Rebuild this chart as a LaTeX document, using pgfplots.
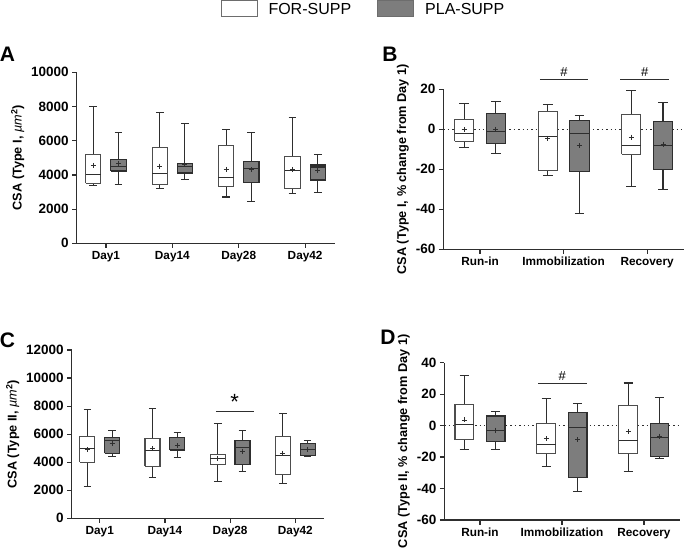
\documentclass[border=0pt]{standalone}
\usepackage{fontspec}
\setmainfont{Liberation Sans}
\usepackage{pgfplots}
\pgfplotsset{compat=1.18}
\definecolor{pla}{HTML}{7D7D7D}
\definecolor{ln}{HTML}{2E2E2E}

\pgfplotsset{
  panel/.style={
    scale only axis, axis lines*=left, enlargelimits=false, clip=false,
    tick align=outside, major tick length=4.5pt,
    scaled y ticks=false,
    axis line style={line width=1.2pt, ln},
    every tick/.style={line width=1.2pt, ln},
    tick label style={font=\bfseries\fontsize{13.5}{15}\selectfont},
    xticklabel style={font=\bfseries\fontsize{11.8}{13}\selectfont},
    label style={font=\bfseries\fontsize{12.7}{14}\selectfont},
    /pgf/number format/assume math mode=true,
    /pgf/number format/1000 sep={},
    xtick={0,1,2,3},
  },
  forb/.style={draw=ln!85, line width=1.1pt, fill=white},
  plab/.style={draw=ln, line width=1.1pt, fill=pla},
  wsk/.style={ln, line width=1.1pt, forget plot},
  means/.style={only marks, mark=+, mark size=2.5pt, ln, line width=0.9pt, forget plot},
  zero/.style={ln, line width=1.4pt, dash pattern=on 1.4pt off 3pt, forget plot},
  sig/.style={ln, line width=1pt, forget plot},
}

% box: style, position, lower whisker, q1, median, q3, upper whisker
\newcommand{\bx}[7]{%
  \pgfmathsetmacro\bxL{#2-0.115}\pgfmathsetmacro\bxR{#2+0.115}%
  \pgfmathsetmacro\bxA{#2-0.058}\pgfmathsetmacro\bxB{#2+0.058}%
  \edef\bxdo{%
    \noexpand\addplot[wsk] coordinates {(#2,#3) (#2,#4)};
    \noexpand\addplot[wsk] coordinates {(#2,#6) (#2,#7)};
    \noexpand\addplot[wsk] coordinates {(\bxA,#3) (\bxB,#3)};
    \noexpand\addplot[wsk] coordinates {(\bxA,#7) (\bxB,#7)};
    \noexpand\addplot[#1, forget plot] coordinates {(\bxL,#4) (\bxR,#4) (\bxR,#6) (\bxL,#6) (\bxL,#4)};
    \noexpand\addplot[wsk] coordinates {(\bxL,#5) (\bxR,#5)};
  }\bxdo}

\begin{document}
\begin{tikzpicture}
\useasboundingbox (0,0) rectangle (685pt,550pt);

% ---------- A ----------
\begin{axis}[panel, at={(76.7pt,306.7pt)}, width=258.3pt, height=171pt,
  xmin=-0.44, xmax=3.45, ymin=0, ymax=10000, ytick={0,2000,...,10000},
  xticklabels={Day1,Day14,Day28,Day42},
  ylabel={CSA (Type I, {\mdseries\itshape µm}\textsuperscript{2})}]
\bx{forb}{-0.19}{3390}{3510}{4020}{5190}{8000}
\bx{plab}{0.19}{3450}{4230}{4500}{4910}{6490}
\bx{forb}{0.81}{3220}{3450}{4090}{5610}{7660}
\bx{plab}{1.19}{3740}{4110}{4500}{4660}{7000}
\bx{forb}{1.81}{2710}{3330}{3840}{5710}{6630}
\bx{plab}{2.19}{2460}{3550}{4390}{4780}{6490}
\bx{forb}{2.81}{2890}{3180}{4250}{5070}{7350}
\bx{plab}{3.19}{2980}{3700}{4460}{4580}{5170}
\addplot[means] coordinates {(-0.19,4560) (0.19,4660) (0.81,4520) (1.19,4600)
  (1.81,4330) (2.19,4290) (2.81,4330) (3.19,4250)};
\end{axis}

% ---------- B ----------
\begin{axis}[panel, at={(443.3pt,300.7pt)}, width=241pt, height=160pt,
  xmin=-0.44, xmax=2.445, ymin=-60, ymax=20, ytick={-60,-40,...,20},
  xticklabels={Run-in,Immobilization,Recovery},
  ylabel={CSA (Type I, \% change from Day 1)}]
\addplot[zero] coordinates {(-0.44,0) (2.445,0)};
\bx{forb}{-0.19}{-9}{-6}{-2.3}{5}{13}
\bx{plab}{0.19}{-12}{-7.2}{-1}{7.8}{14}
\bx{forb}{0.81}{-22.9}{-20.7}{-3.4}{9.1}{12.2}
\bx{plab}{1.19}{-41.9}{-21.2}{-1.9}{4.5}{7}
\bx{forb}{1.81}{-28.7}{-12.4}{-7.9}{7.5}{19.2}
\bx{plab}{2.19}{-29.9}{-20}{-7.9}{4}{13.2}
\addplot[means] coordinates {(-0.19,-0.3) (0.19,0) (0.81,-4.5) (1.19,-8.2)
  (1.81,-3.9) (2.19,-7.4)};
\addplot[sig] coordinates {(0.715,25) (1.298,25)};
\addplot[sig] coordinates {(1.681,25) (2.263,25)};
\node[font=\fontsize{13}{13}\selectfont, anchor=base] at (axis cs:1.006,26.5) {\#};
\node[font=\fontsize{13}{13}\selectfont, anchor=base] at (axis cs:1.972,26.5) {\#};
\end{axis}

% ---------- C ----------
\begin{axis}[panel, at={(71.7pt,31.7pt)}, width=252.3pt, height=168.3pt,
  xmin=-0.43, xmax=3.44, ymin=0, ymax=12000, ytick={0,2000,...,12000},
  xticklabels={Day1,Day14,Day28,Day42},
  ylabel={CSA (Type II, {\mdseries\itshape µm}\textsuperscript{2})}]
\bx{forb}{-0.19}{2240}{4000}{4980}{5810}{7760}
\bx{plab}{0.19}{4430}{4640}{5570}{5760}{6240}
\bx{forb}{0.81}{2880}{3710}{4860}{5710}{7860}
\bx{plab}{1.19}{4310}{4860}{4930}{5760}{6140}
\bx{forb}{1.81}{2640}{3860}{4290}{4520}{6760}
\bx{plab}{2.19}{3310}{3810}{5050}{5570}{6290}
\bx{forb}{2.81}{2480}{3100}{4480}{5830}{7500}
\bx{plab}{3.19}{4430}{4500}{4930}{5360}{5520}
\addplot[means] coordinates {(-0.19,4880) (0.19,5360) (0.81,4950) (1.19,5190)
  (1.81,4290) (2.19,4790) (2.81,4640) (3.19,4930)};
\addplot[sig] coordinates {(1.78,7640) (2.36,7640)};
\node[font=\fontsize{22}{22}\selectfont, anchor=base] at (axis cs:2.07,7750) {*};
\end{axis}

% ---------- D ----------
\begin{axis}[panel, at={(444.3pt,30pt)}, width=235.7pt, height=157.3pt,
  xmin=-0.435, xmax=2.44, ymin=-60, ymax=40, ytick={-60,-40,...,40},
  xticklabels={Run-in,Immobilization,Recovery},
  ylabel={CSA (Type II, \% change from Day 1)}]
\addplot[zero] coordinates {(-0.435,0) (2.44,0)};
\bx{forb}{-0.19}{-15}{-8.9}{0.6}{13.3}{31.8}
\bx{plab}{0.19}{-15}{-10.2}{-3}{6.1}{9.1}
\bx{forb}{0.81}{-25.8}{-17.8}{-11.9}{1.3}{17.2}
\bx{plab}{1.19}{-41.9}{-32.8}{-1.1}{8.1}{14}
\bx{forb}{1.81}{-29.2}{-18}{-9.5}{12.7}{27.1}
\bx{plab}{2.19}{-20.8}{-19.5}{-7.8}{1.3}{18}
\addplot[means] coordinates {(-0.19,3.6) (0.19,-2.8) (0.81,-8.3) (1.19,-9.1)
  (1.81,-3.6) (2.19,-6.6)};
\addplot[sig] coordinates {(0.71,26.9) (1.30,26.9)};
\node[font=\fontsize{13}{13}\selectfont, anchor=base] at (axis cs:1.005,29) {\#};
\end{axis}

% legend
\draw[ln!70, line width=0.9pt, fill=white] (221.7pt,533.3pt) rectangle (257.7pt,549.3pt);
\node[anchor=base west, inner sep=0pt, font=\fontsize{16}{18}\selectfont] at (268.3pt,535pt) {FOR-SUPP};
\draw[ln!70, line width=0.9pt, fill=pla] (377.3pt,533.3pt) rectangle (413.3pt,549.3pt);
\node[anchor=base west, inner sep=0pt, font=\fontsize{16}{18}\selectfont] at (425pt,535pt) {PLA-SUPP};

% panel letters
\node[font=\bfseries\fontsize{21}{21}\selectfont] at (7.5pt,496pt) {A};
\node[font=\bfseries\fontsize{21}{21}\selectfont] at (390pt,496pt) {B};
\node[font=\bfseries\fontsize{21}{21}\selectfont] at (7.5pt,209.5pt) {C};
\node[font=\bfseries\fontsize{21}{21}\selectfont] at (388pt,213pt) {D};
\end{tikzpicture}
\end{document}
